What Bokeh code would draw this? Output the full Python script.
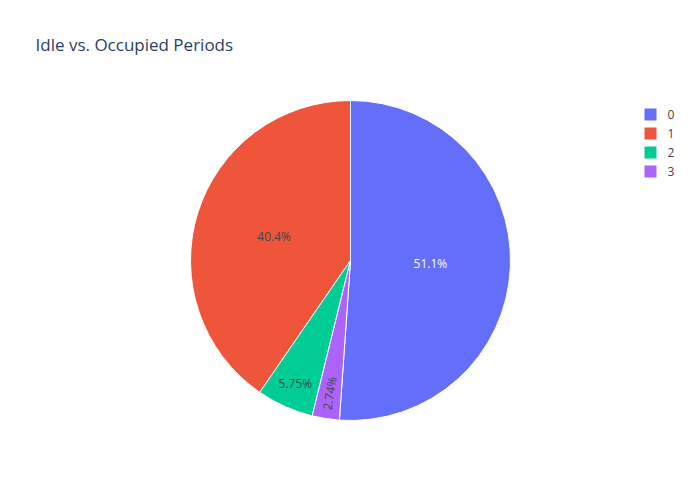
import numpy as np
from bokeh.plotting import figure
from bokeh.models import ColumnDataSource, Range1d
from bokeh.core.properties import value
from bokeh.embed import file_html
from bokeh.resources import INLINE

# données
categories = ["0", "1", "2", "3"]
shares = [51.1, 40.4, 5.75, 2.74]
colors = ["#636efa", "#EF553B", "#00cc96", "#ab63fa"]
labels = ["51.1%", "40.4%", "5.75%", "2.74%"]

W, H = 684, 484
cx, cy, R = 350, H - 260, 160

# ordre anti-horaire depuis le haut : 1, 2, 3, 0
order = [1, 2, 3, 0]
frac = np.array(shares) / sum(shares)
start, end, mids = {}, {}, {}
a = np.pi / 2
for i in order:
    start[i] = a
    a += frac[i] * 2 * np.pi
    end[i] = a
    mids[i] = (start[i] + end[i]) / 2

p = figure(width=W, height=H, output_backend="svg", toolbar_location=None,
           x_range=Range1d(0, W), y_range=Range1d(0, H), min_border=0)
p.axis.visible = False
p.grid.visible = False
p.outline_line_color = None

src = ColumnDataSource(dict(
    start=[start[i] for i in range(4)], end=[end[i] for i in range(4)],
    color=colors))
p.wedge(x=cx, y=cy, radius=R, start_angle="start", end_angle="end",
        fill_color="color", line_color="white", line_width=1, source=src)

# étiquettes
lx, ly, ang, tc = [], [], [], []
for i in range(4):
    r = 0.5 * R if frac[i] > 0.2 else 0.84 * R
    lx.append(cx + r * np.cos(mids[i]))
    ly.append(cy + r * np.sin(mids[i]))
    ang.append(mids[i] + np.pi if frac[i] < 0.04 else 0)
    tc.append("white" if i == 0 else "#444444")
p.text(x=lx, y=ly, text=labels, angle=ang, text_color=tc, text_font_size="12px",
       text_font=value("Open Sans"), text_align="center", text_baseline="middle")

# titre
p.text(x=[35], y=[H - 44], text=["Idle vs. Occupied Periods"], text_color="#2a3f5f",
       text_font_size="17px", text_font=value("Open Sans"), text_baseline="middle")

# légende
ys = [H - 114 - 19 * k for k in range(4)]
p.scatter(x=[650] * 4, y=ys, marker="square", size=12, fill_color=colors, line_color=None)
p.text(x=[667] * 4, y=ys, text=categories, text_color="#444444", text_font_size="12px",
       text_font=value("Open Sans"), text_baseline="middle")

open("out.html", "w").write(file_html(p, INLINE))
